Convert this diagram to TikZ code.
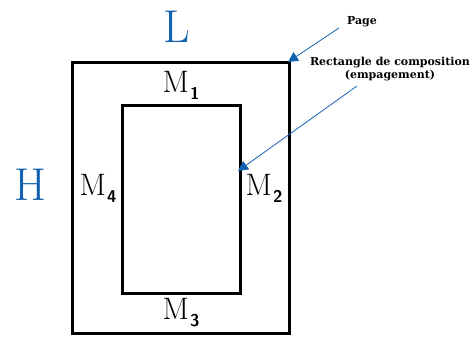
\documentclass[tikz,border=0pt]{standalone}
\usepackage{fontspec}
\usepackage{xcolor}
\usepackage{tikz}
\usetikzlibrary{arrows.meta,positioning,calc}
\newfontfamily\calloutfont{DejaVu Serif}
\definecolor{ruleblue}{RGB}{16,96,176}
\newcommand{\margsub}[1]{\hspace{1pt}\raisebox{-7pt}{\fontsize{17}{17}\selectfont\sffamily\bfseries #1}}

\begin{document}
\begin{tikzpicture}[
    x=1pt, y=-1pt,
    frame/.style={draw, line width=3pt},
    marg/.style={font=\fontsize{31}{33}\selectfont, inner sep=0pt},
    dim/.style={text=ruleblue, font=\fontsize{46}{48}\selectfont, inner sep=0pt},
    callout/.style={draw=ruleblue, line width=0.8pt, -{Triangle[length=10pt,width=10pt]}, ruleblue},
    lbl/.style={font=\calloutfont\fontsize{11}{13.5}\selectfont\bfseries, align=center, inner sep=1pt}
  ]
    \useasboundingbox (0,0) rectangle (470,340);

    % Page and text block
    \draw[frame] (72,62) rectangle (289,333);
    \draw[frame] (122,105) rectangle (240,293);
    \coordinate (pagecorner) at (288,62);
    \coordinate (blockedge) at (238,171);

    % Page dimensions
    \node[dim] (width) at (177,27) {L};
    \node[dim] (height) at (30,185) {H};

    % Margins
    \node[marg] (m1) at (181,85) {M\margsub{1}};
    \node[marg] (m2) at (264,188) {M\margsub{2}};
    \node[marg] (m3) at (181,313) {M\margsub{3}};
    \node[marg] (m4) at (98,188) {M\margsub{4}};

    % Callouts
    \node[lbl] (page) at (362,22) {Page};
    \node[lbl] (block) at (390,69) {Rectangle de composition\\(empagement)};
    \coordinate (pagestart) at (339,28);
    \coordinate (blockstart) at (357,86);
    \draw[callout] (pagestart) -- (pagecorner);
    \draw[callout] (blockstart) -- (blockedge);
  \end{tikzpicture}
\end{document}
